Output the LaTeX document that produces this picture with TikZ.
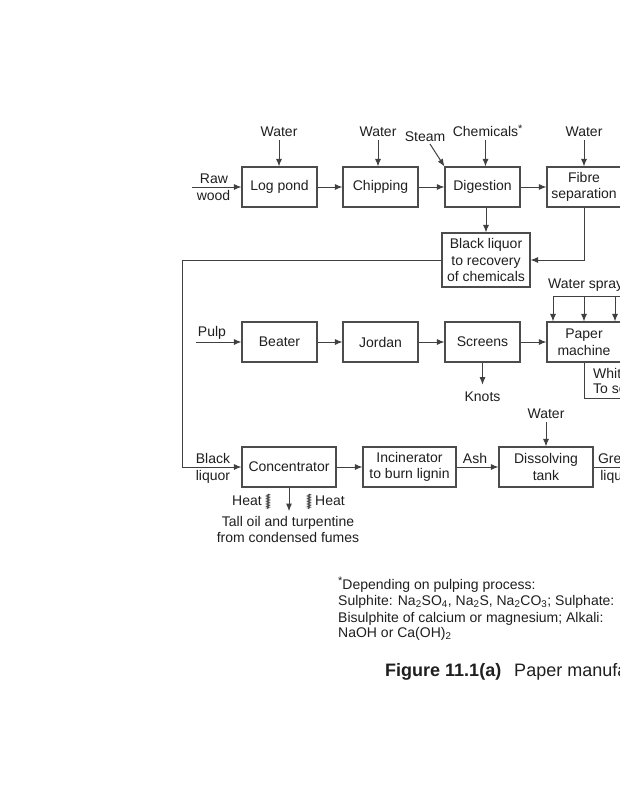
\documentclass[tikz,border=0pt]{standalone}
\usepackage{fontspec}
\setmainfont{Liberation Sans}
\usetikzlibrary{arrows.meta,decorations.pathmorphing,calc}
\newcommand{\myast}{\raisebox{4.5pt}{\fontsize{11}{11}\selectfont *}}
\begin{document}
\begin{tikzpicture}[x=1pt,y=-1pt,
  font=\fontsize{14}{16.5}\selectfont,
  every node/.style={text=black!88},
  box/.style={draw=black!70, line width=1.1pt, minimum width=75pt, minimum height=40pt, inner sep=0pt, align=center},
  lbl/.style={inner sep=0pt, anchor=base},
  lblw/.style={inner sep=0pt, anchor=base west},
  lble/.style={inner sep=0pt, anchor=base east},
  arr/.style={draw=black!75, line width=1pt, -{Latex[length=7.5pt,width=6pt]}},
  ln/.style={draw=black!75, line width=1pt},
  heat/.style={draw=black!75, line width=0.6pt, decorate, decoration={zigzag, segment length=1.6pt, amplitude=1.5pt}}
]
\useasboundingbox (0,0) rectangle (620,800);
\fill[white] (0,0) rectangle (620,800);
\clip (0,0) rectangle (620,800);

% ---- row 1
\node[box] (logpond) at (279.5,187) {Log pond};
\node[box] (chipping) at (380.5,187) {Chipping};
\node[box] (digestion) at (482.5,187) {Digestion};
\node[box, minimum width=74pt] (fibre) at (584,187) {Fibre\\separation};
\node[box, minimum width=88pt, minimum height=54pt] (recovery) at (486,260) {Black liquor\\to recovery\\of chemicals};

\node[lbl] (w1) at (279,136.5) {Water};
\node[lbl] (w2) at (378,136.5) {Water};
\node[lbl] (steam) at (425,141.5) {Steam};
\node[lbl] (chem) at (485.5,136.5) {Chemicals\rlap{\myast}};
\node[lbl] (w4) at (584,136.5) {Water};
\node[lbl] (raw1) at (214,183) {Raw};
\node[lbl] (raw2) at (213.5,200.5) {wood};

\coordinate (rawtail) at (192,187);
\coordinate (steamtail) at (430,144);
\coordinate (lft) at (182,260);

\draw[arr] (rawtail) -- (logpond.west);
\draw[arr] (logpond) -- (chipping);
\draw[arr] (chipping) -- (digestion);
\draw[arr] (digestion) -- (fibre);
\draw[arr, shorten <=3.5pt] (w1.south) -- (w1.south |- logpond.north);
\draw[arr, shorten <=3.5pt] (w2.south) -- (w2.south |- chipping.north);
\draw[arr, shorten <=3.5pt] (chem.south) -- (chem.south |- digestion.north);
\draw[arr, shorten <=3.5pt] (w4.south) -- (w4.south |- fibre.north);
\draw[arr] (steamtail) -- (digestion.north west);
\draw[arr] (recovery.north |- digestion.south) -- (recovery.north);
\draw[arr] (fibre.south) |- (recovery.east);

% ---- row 2
\node[box] (beater) at (279.5,342) {Beater};
\node[box] (jordan) at (380.5,342) {Jordan};
\node[box] (screens) at (482.5,342) {Screens};
\node[box, minimum width=74pt] (paper) at (584,342) {Paper\\machine};

\node[lbl] (pulp) at (212,336) {Pulp};
\node[lbl] (knots) at (482.5,401.5) {Knots};
\node[lblw] (spray) at (548,288) {Water spray};
\node[lblw] (white) at (593,378) {White water};
\node[lblw] (sewer) at (593,393) {To sewer};

\coordinate (pulptail) at (196,342);
\coordinate (ws0) at (553,296);
\coordinate (ws1) at (584,296);
\coordinate (ws2) at (615,296);
\coordinate (wsend) at (640,296);
\coordinate (wwc) at (584,398);
\coordinate (wwend) at (640,398);

\draw[arr] (pulptail) -- (beater.west);
\draw[arr] (beater) -- (jordan);
\draw[arr] (jordan) -- (screens);
\draw[arr] (screens) -- (paper);
\draw[arr, shorten >=7pt] (screens.south) -- (knots.north);
\draw[ln] (ws0) -- (wsend);
\draw[arr] (ws0) -- (ws0 |- paper.north);
\draw[arr] (ws1) -- (ws1 |- paper.north);
\draw[arr] (ws2) -- (ws2 |- paper.north);
\draw[ln] (paper.south) -- (wwc) -- (wwend);

% ---- row 3
\node[box, minimum width=94pt] (conc) at (289,467) {Concentrator};
\node[box, minimum width=93pt] (incin) at (409.5,467) {Incinerator\\to burn lignin};
\node[box, minimum width=94pt] (dissolve) at (546,467) {Dissolving\\tank};

\node[lbl] (bl1) at (213,463) {Black};
\node[lbl] (bl2) at (213,480) {liquor};
\node[lbl] (ash) at (475,463) {Ash};
\node[lbl] (w5) at (546,418) {Water};
\node[lbl] (gl1) at (617.5,463) {Green};
\node[lbl] (gl2) at (617.5,480) {liquor};
\node[lble] (heatl) at (262,505) {Heat};
\node[lblw] (heatr) at (315,505) {Heat};
\node[lbl] (tall1) at (288,526.5) {Tall oil and turpentine};
\node[lbl] (tall2) at (288,542) {from condensed fumes};

\coordinate (glend) at (640,467);
\coordinate (hz1a) at (268,494);
\coordinate (hz1b) at (268,509);
\coordinate (hz2a) at (309,494);
\coordinate (hz2b) at (309,509);

\draw[arr] (recovery.west) -- (lft) |- (conc.west);
\draw[arr] (conc) -- (incin);
\draw[arr] (incin) -- (dissolve);
\draw[arr, shorten <=3.5pt] (w5.south) -- (w5.south |- dissolve.north);
\draw[ln] (dissolve.east) -- (glend);
\draw[arr, shorten >=5pt] (conc.south) -- (conc.south |- tall1.north);
\draw[heat] (hz1a) -- (hz1b);
\draw[heat] (hz2a) -- (hz2b);

% ---- footnote and caption
\node[lblw] (fn1) at (338,589) {\myast Depending on pulping process:};
\node[lblw] (fn2) at (338,605.5) {Sulphite: Na\textsubscript{2}SO\textsubscript{4}, Na\textsubscript{2}S, Na\textsubscript{2}CO\textsubscript{3}; Sulphate:};
\node[lblw] (fn3) at (338,622) {Bisulphite of calcium or magnesium; Alkali:};
\node[lblw] (fn4) at (338,637.5) {NaOH or Ca(OH)\textsubscript{2}};
\node[lblw, font=\fontsize{18}{21}\selectfont] (cap) at (385,676.5) {\textbf{Figure 11.1(a)}\hspace{13pt}Paper manufacture};
\end{tikzpicture}
\end{document}
